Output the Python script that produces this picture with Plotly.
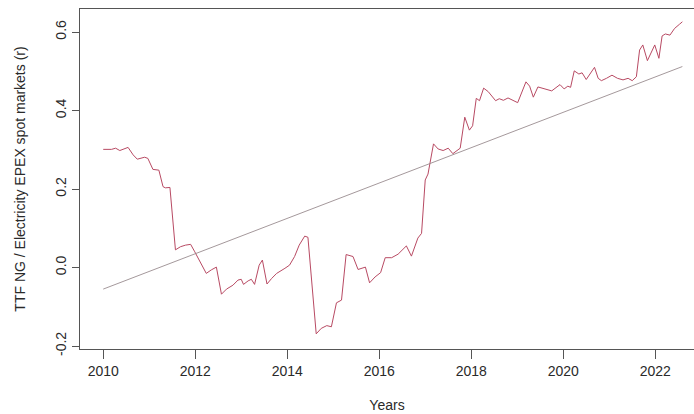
import plotly.graph_objects as go

# Correlation series (decimal year, r)
years = [2010.00, 2010.18, 2010.27, 2010.36, 2010.54, 2010.65, 2010.74, 2010.90, 2010.97,
         2011.08, 2011.21, 2011.30, 2011.35, 2011.45, 2011.57, 2011.68, 2011.79, 2011.90,
         2011.99, 2012.13, 2012.24, 2012.35, 2012.46, 2012.57, 2012.68, 2012.82, 2012.93,
         2013.00, 2013.05, 2013.15, 2013.22, 2013.29, 2013.39, 2013.46, 2013.56, 2013.66,
         2013.77, 2013.95, 2014.05, 2014.16, 2014.26, 2014.38, 2014.45, 2014.63, 2014.74,
         2014.86, 2014.96, 2015.07, 2015.18, 2015.28, 2015.43, 2015.54, 2015.70, 2015.79,
         2015.91, 2016.03, 2016.13, 2016.27, 2016.41, 2016.59, 2016.70, 2016.84, 2016.92,
         2017.00, 2017.06, 2017.18, 2017.28, 2017.39, 2017.50, 2017.60, 2017.76, 2017.86,
         2017.96, 2018.03, 2018.11, 2018.18, 2018.27, 2018.37, 2018.53, 2018.61, 2018.70,
         2018.80, 2019.01, 2019.19, 2019.27, 2019.35, 2019.45, 2019.75, 2019.93, 2020.02,
         2020.10, 2020.16, 2020.24, 2020.34, 2020.41, 2020.50, 2020.68, 2020.76, 2020.83,
         2020.94, 2021.06, 2021.18, 2021.30, 2021.41, 2021.50, 2021.59, 2021.66, 2021.73,
         2021.83, 2021.99, 2022.08, 2022.15, 2022.22, 2022.32, 2022.42, 2022.53, 2022.59]
r_values = [0.301, 0.301, 0.304, 0.298, 0.306, 0.287, 0.276, 0.281, 0.278,
            0.250, 0.248, 0.206, 0.203, 0.204, 0.045, 0.053, 0.057, 0.059,
            0.040, 0.011, -0.015, -0.006, 0.001, -0.068, -0.055, -0.045, -0.032,
            -0.030, -0.043, -0.034, -0.030, -0.043, 0.006, 0.019, -0.042, -0.028,
            -0.015, -0.002, 0.006, 0.028, 0.057, 0.080, 0.077, -0.169, -0.155,
            -0.148, -0.151, -0.090, -0.083, 0.033, 0.028, -0.005, 0.001, -0.039,
            -0.024, -0.013, 0.025, 0.025, 0.034, 0.055, 0.029, 0.075, 0.087,
            0.223, 0.238, 0.315, 0.302, 0.298, 0.304, 0.290, 0.304, 0.383,
            0.350, 0.361, 0.431, 0.425, 0.457, 0.448, 0.425, 0.430, 0.426,
            0.432, 0.420, 0.473, 0.462, 0.434, 0.460, 0.450, 0.466, 0.455,
            0.462, 0.459, 0.501, 0.493, 0.496, 0.479, 0.510, 0.482, 0.476,
            0.482, 0.490, 0.482, 0.478, 0.482, 0.476, 0.486, 0.554, 0.567,
            0.527, 0.567, 0.533, 0.590, 0.595, 0.592, 0.609, 0.620, 0.626]

# Linear trend endpoints
trend_years = [2010.00, 2022.59]
trend_values = [-0.055, 0.512]

x_ticks = [2010, 2012, 2014, 2016, 2018, 2020, 2022]
y_ticks = [-0.2, 0.0, 0.2, 0.4, 0.6]
y_tick_text = ["-0.2", "0.0", "0.2", "0.4", "0.6"]

FONT = "Liberation Sans, Arial, sans-serif"
AXIS_COLOR = "#555555"
TEXT_COLOR = "#2a2a2a"

fig = go.Figure()
fig.add_trace(go.Scatter(x=years, y=r_values, mode="lines",
                         line=dict(color="#b84a63", width=1), showlegend=False))
fig.add_trace(go.Scatter(x=trend_years, y=trend_values, mode="lines",
                         line=dict(color="#9a8c90", width=0.9), showlegend=False))

fig.update_layout(
    width=694, height=414,
    margin=dict(l=80, r=0, t=9, b=65),
    paper_bgcolor="white", plot_bgcolor="white",
    font=dict(family=FONT, size=14, color=TEXT_COLOR),
    xaxis=dict(
        range=[2009.495, 2022.843], tickvals=x_ticks,
        showgrid=False, zeroline=False,
        showline=True, mirror=True, linecolor=AXIS_COLOR, linewidth=1,
        ticks="outside", ticklen=9, tickcolor=AXIS_COLOR, tickwidth=1,
        tickfont=dict(size=14, color=TEXT_COLOR),
        title=dict(text="Years", font=dict(size=14, color=TEXT_COLOR), standoff=22),
    ),
    yaxis=dict(
        range=[-0.2076, 0.6586], tickvals=y_ticks, ticktext=y_tick_text,
        tickangle=-90, ticklabelstandoff=0,
        showgrid=False, zeroline=False,
        showline=True, mirror=False, linecolor=AXIS_COLOR, linewidth=1,
        ticks="outside", ticklen=7, tickcolor=AXIS_COLOR, tickwidth=1,
        tickfont=dict(size=14, color=TEXT_COLOR),
        title=dict(text="TTF NG / Electricity EPEX spot markets (r)",
                   font=dict(size=14, color=TEXT_COLOR), standoff=24),
    ),
)

fig.write_html("out.html")
